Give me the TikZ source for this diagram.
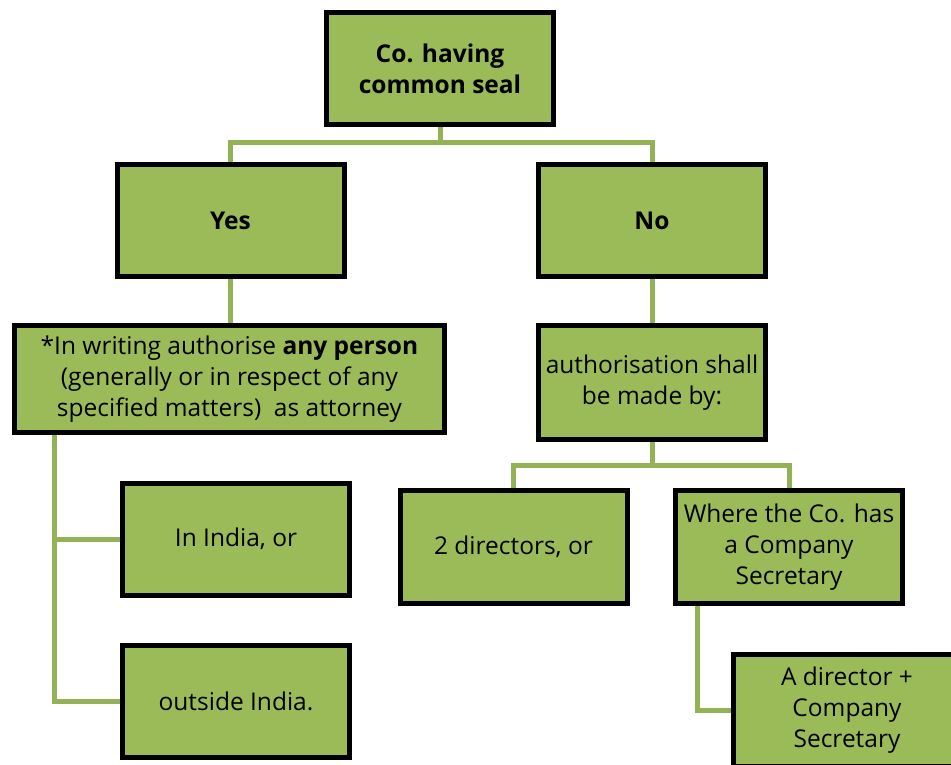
\documentclass[tikz,border=0pt]{standalone}
\usepackage{fontspec}
\setmainfont{Open Sans}
\usepackage{tikz}
\usetikzlibrary{shapes}
\usetikzlibrary{backgrounds}
\usetikzlibrary{positioning}

\definecolor{olive}{HTML}{9BBB59}
\definecolor{oliveline}{HTML}{93B255}

\begin{document}
\begin{tikzpicture}[x=1pt,y=-1pt]
			\tikzset{box/.style = {shape=rectangle,draw=black,fill=olive,line width=5pt,
					minimum width=227pt, minimum height=112pt,
					inner sep = 1pt, align=center,
					font=\fontsize{24.5}{31}\selectfont}}
			\tikzset{boxBold/.style = {box, font=\fontsize{24.5}{31}\selectfont\bfseries}}
			\tikzset{link/.style = {draw=oliveline, line width=5pt}}
			
			\useasboundingbox (0,0) rectangle (951,764);
			\clip (0,0) rectangle (951,764);
			
			% vertices
			\node[boxBold] (seal) at (440,68.5) {Co. having\\common seal};
			\node[boxBold] (yes) at (230.5,220.5) {Yes};
			\node[boxBold] (no) at (652,220.5) {No};
			
			\node[box, minimum width=430pt, minimum height=107pt] (attorney) at (229.5,379)
				{*In writing authorise \textbf{any person}\\(generally or in respect of any\\specified matters)\ \ as attorney};
			\node[box, minimum height=114pt] (auth) at (652,382.5) {authorisation shall\\be made by:};
			
			\node[box] (india) at (236,539) {In India, or};
			\node[box] (outside) at (236,701.5) {outside India.};
			
			\node[box, minimum height=113pt] (twodir) at (513.5,547) {2 directors, or};
			\node[box, minimum height=113pt] (where) at (789,547) {Where the Co. has\\a Company\\Secretary};
			\node[box] (adir) at (847,710) {A director +\\Company\\Secretary};
			
			%edges
			\begin{scope}[on background layer]
			\draw[link] (seal.south) -- ++(0,15.5) -| (yes.north);
			\draw[link] (seal.south) -- ++(0,15.5) -| (no.north);
			\draw[link] (yes.south) -- (yes.south |- attorney.north);
			\draw[link] (no.south) -- (auth.north);
			
			\draw[link] (attorney.south west) ++(42.5,0) |- (india.west);
			\draw[link] (attorney.south west) ++(42.5,0) |- (outside.west);
			
			\draw[link] (auth.south) -- ++(0,23) -| (twodir.north);
			\draw[link] (auth.south) -- ++(0,23) -| (where.north);
			\draw[link] (where.south west) ++(24.5,0) |- (adir.west);
			\end{scope}
			
			\end{tikzpicture}
\end{document}
